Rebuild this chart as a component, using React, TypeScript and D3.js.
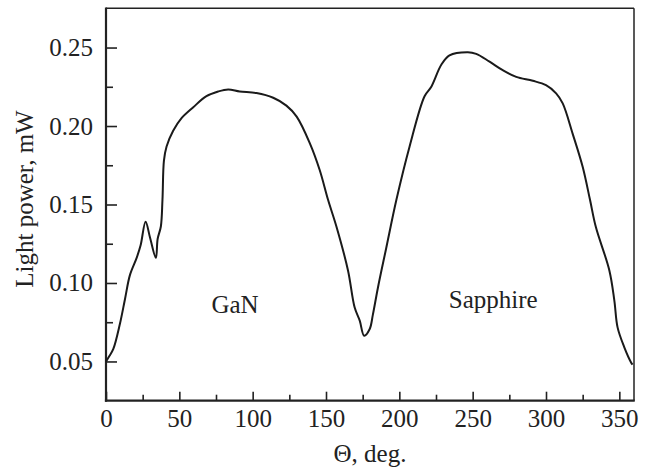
import React, { useEffect, useRef } from "react";
import * as d3 from "d3";

// angle, deg.
const theta = [
  0, 2, 5, 9.5, 13, 16.3, 20.9, 23.6, 27, 30, 34, 35.2, 37.4, 38.5, 39.5, 41.3,
  45.8, 51.5, 59.5, 68.5, 76.5, 83.3, 91.2, 102.6, 114, 123, 130, 139, 145.7,
  151.4, 157.1, 165, 169.5, 173, 176, 179.8, 182, 185.4, 191, 198, 207, 217.2,
  221.8, 228.6, 234.2, 246.7, 252.4, 261.5, 270.5, 279.7, 291, 300, 306.9,
  311.4, 318.2, 325, 330, 334, 343.2, 346.6, 348.8, 353.4, 358, 359,
];
// light power, mW
const power = [
  0.05, 0.053, 0.058, 0.074, 0.09, 0.105, 0.116, 0.124, 0.139, 0.129, 0.116,
  0.128, 0.136, 0.153, 0.178, 0.187, 0.197, 0.205, 0.212, 0.219, 0.222, 0.2233,
  0.222, 0.221, 0.218, 0.213, 0.206, 0.189, 0.172, 0.153, 0.136, 0.108, 0.0845,
  0.076, 0.0664, 0.0707, 0.08, 0.097, 0.122, 0.153, 0.187, 0.219, 0.225, 0.239,
  0.245, 0.247, 0.246, 0.241, 0.2356, 0.2313, 0.2288, 0.226, 0.2208, 0.2144,
  0.195, 0.174, 0.153, 0.1356, 0.108, 0.0888, 0.0717, 0.059, 0.0494, 0.048,
];

const xMajor = [0, 50, 100, 150, 200, 250, 300, 350];
const xMinor = [25, 75, 125, 175, 225, 275, 325];
const yMajor = [0.05, 0.1, 0.15, 0.2, 0.25];
const yMinor = [0.075, 0.125, 0.175, 0.225];

const labels = [
  { text: "GaN", theta: 88, power: 0.081 },
  { text: "Sapphire", theta: 264, power: 0.084 },
];

const FONT = "'Liberation Serif', 'Times New Roman', serif";

const App = () => {
  const svgRef = useRef(null);

  useEffect(() => {
    const svg = d3.select(svgRef.current);
    svg.selectAll("*").remove();

    const L = 106,
      R = 634,
      T = 8.3,
      B = 400.7;

    const x = d3.scaleLinear().domain([0, 360]).range([L, R]);
    const y = d3.scaleLinear().domain([0.025, 0.275]).range([B, T]);

    // frame
    svg
      .append("line")
      .attr("x1", L).attr("x2", R).attr("y1", T).attr("y2", T)
      .attr("stroke", "#222").attr("stroke-width", 1.5);
    svg
      .append("line")
      .attr("x1", R).attr("x2", R).attr("y1", T).attr("y2", B)
      .attr("stroke", "#222").attr("stroke-width", 1.5);

    // axes
    const gx = svg.append("g").attr("transform", `translate(0,${B})`);
    gx.call(
      d3.axisBottom(x).tickValues(xMajor).tickSize(-9).tickPadding(9).tickFormat(d3.format("d"))
    );
    const gxm = svg.append("g").attr("transform", `translate(0,${B})`);
    gxm.call(d3.axisBottom(x).tickValues(xMinor).tickSize(-6).tickFormat(() => ""));

    const gy = svg.append("g").attr("transform", `translate(${L},0)`);
    gy.call(
      d3.axisLeft(y).tickValues(yMajor).tickSize(-11).tickPadding(13).tickFormat(d3.format(".2f"))
    );
    const gym = svg.append("g").attr("transform", `translate(${L},0)`);
    gym.call(d3.axisLeft(y).tickValues(yMinor).tickSize(-7).tickFormat(() => ""));

    [gx, gxm, gy, gym].forEach((g) => {
      g.select(".domain").remove();
      g.selectAll("line").attr("stroke", "#222").attr("stroke-width", 1.6);
      g.selectAll("text")
        .attr("font-family", FONT)
        .attr("font-size", 25)
        .attr("fill", "#222");
    });

    svg
      .append("line")
      .attr("x1", L).attr("x2", L).attr("y1", T - 0.75).attr("y2", B + 1.1)
      .attr("stroke", "#222").attr("stroke-width", 2.2);
    svg
      .append("line")
      .attr("x1", L - 1.1).attr("x2", R + 0.75).attr("y1", B).attr("y2", B)
      .attr("stroke", "#222").attr("stroke-width", 2.2);

    // curve
    const pts = theta.map((t, i) => [t, power[i]]);
    const line = d3
      .line()
      .x((d) => x(d[0]))
      .y((d) => y(d[1]))
      .curve(d3.curveCatmullRom.alpha(0.5));
    svg
      .append("path")
      .datum(pts)
      .attr("d", line)
      .attr("fill", "none")
      .attr("stroke", "#1a1a1a")
      .attr("stroke-width", 2)
      .attr("stroke-linejoin", "round");

    // region labels
    svg
      .selectAll(".lbl")
      .data(labels)
      .join("text")
      .attr("class", "lbl")
      .attr("x", (d) => x(d.theta))
      .attr("y", (d) => y(d.power))
      .attr("text-anchor", "middle")
      .attr("font-family", FONT)
      .attr("font-size", 25)
      .attr("fill", "#222")
      .text((d) => d.text);

    // axis titles
    svg
      .append("text")
      .attr("x", (L + R) / 2)
      .attr("y", 462)
      .attr("text-anchor", "middle")
      .attr("font-family", FONT)
      .attr("font-size", 25)
      .attr("fill", "#222")
      .text("\u0398, deg.");

    svg
      .append("text")
      .attr("transform", "translate(33,199) rotate(-90)")
      .attr("text-anchor", "middle")
      .attr("font-family", FONT)
      .attr("font-size", 25)
      .attr("fill", "#222")
      .text("Light power, mW");
  });

  return (
    <svg
      ref={svgRef}
      width={649}
      height={475}
      style={{ position: "absolute", left: 0, top: 0, background: "#fff" }}
    />
  );
};

export default App;
